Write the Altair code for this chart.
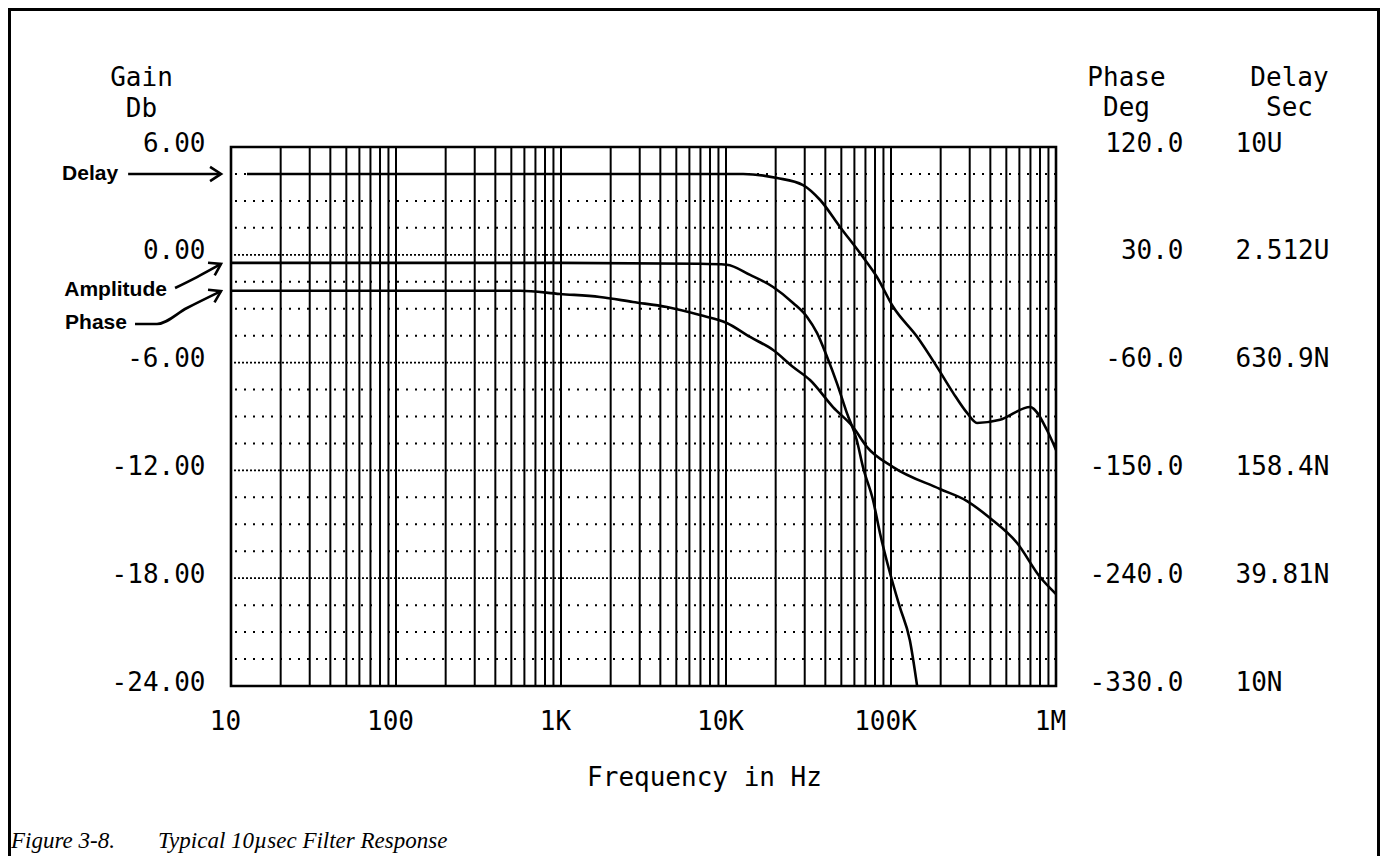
import altair as alt
import pandas as pd

# ---------------- data ----------------
amp_freq = [10, 1000, 6950, 10100, 14000, 19300, 25500, 31000, 35600, 41000, 47000,
            54000, 62000, 67600, 77800, 85700, 98600, 113000, 130000, 144000]
amp_db = [-0.45, -0.45, -0.5, -0.55, -1.12, -1.79, -2.68, -3.46, -4.35, -5.69, -7.14,
          -8.8, -10.31, -11.81, -13.65, -15.48, -17.71, -19.6, -21.44, -24.0]

phase_freq = [10, 565, 986, 1720, 2730, 4390, 6950, 10100, 14000, 19300, 25500, 32300,
              44500, 58900, 71600, 103000, 198000, 289000, 398000, 581000, 800000, 1000000]
phase_deg = [0, 0, -2.7, -5.2, -9.4, -13.6, -20.3, -26.9, -38.6, -49.5, -63.7, -74.5,
             -97.1, -113.8, -130.5, -147.2, -165.5, -175.6, -189.8, -210.6, -239.0, -253.2]

delay_freq = [12.5, 12700, 20400, 29300, 37200, 49100, 67600, 82200, 103000, 144000,
              190000, 238000, 289000, 332000, 458000, 696000, 881000, 1000000]
delay_sec = [7.08e-6, 7.08e-6, 6.72e-6, 6.14e-6, 5.07e-6, 3.59e-6, 2.44e-6, 1.89e-6,
             1.29e-6, 8.78e-7, 5.97e-7, 4.28e-7, 3.31e-7, 2.91e-7, 3.03e-7, 3.57e-7,
             2.66e-7, 2.06e-7]

# tick values / labels
x_ticks = [10, 100, 1000, 10000, 100000, 1000000]
x_labels = ["10", "100", "1K", "10K", "100K", "1M"]
gain_ticks = [6, 0, -6, -12, -18, -24]
gain_labels = ["6.00", "0.00", "-6.00", "-12.00", "-18.00", "-24.00"]
phase_ticks = [120, 30, -60, -150, -240, -330]
phase_labels = ["120.0", "30.0", "-60.0", "-150.0", "-240.0", "-330.0"]
delay_ticks = [1e-5, 2.512e-6, 6.309e-7, 1.584e-7, 3.981e-8, 1e-8]
delay_labels = ["10U", "2.512U", "630.9N", "158.4N", "39.81N", "10N"]

# grid
grid_freqs = [m * 10 ** k for k in range(1, 6) for m in range(1, 10)] + [1000000]
minor_db = [6 - 1.5 * i for i in range(1, 20) if i % 4 != 0]
major_db = [0, -6, -12, -18]

# annotations (in frequency / gain-dB space)
ann_text = ["Delay", "Amplitude", "Phase"]
ann_text_freq = [2.07, 4.09, 2.34]
ann_text_db = [4.5, -1.96, -3.8]
arrow_id = ["d", "d", "a", "a", "a", "p", "p", "p", "p"]
arrow_freq = [2.38, 8.46, 4.58, 6.22, 8.7, 2.62, 3.56, 5.41, 8.7]
arrow_db = [4.5, 4.5, -1.85, -1.24, -0.51, -3.85, -3.85, -2.96, -2.02]
tip_freq = [8.7, 8.7, 8.7]
tip_db = [4.5, -0.51, -2.02]
tip_angle = [0, 332, 333]

caption_1 = "Figure 3-8."
caption_2 = "Typical 10\u00b5sec Filter Response"

MONO = "DejaVu Sans Mono"
SANS = "Liberation Sans"
SERIF = "Liberation Serif"
FS = 26


def lookup_expr(values, labels):
    v = ",".join(repr(x) for x in values)
    l = ",".join("'" + s + "'" for s in labels)
    return f"[{l}][indexof([{v}], datum.value)]"


xscale = alt.Scale(type="log", domain=[10, 1000000], nice=False)
gscale = alt.Scale(domain=[-24, 6], nice=False, zero=False)

amp_df = pd.DataFrame({"freq": amp_freq, "v": amp_db})
phase_df = pd.DataFrame({"freq": phase_freq, "v": phase_deg})
delay_df = pd.DataFrame({"freq": delay_freq, "v": delay_sec})

x_axis = alt.Axis(
    values=x_ticks, labelExpr=lookup_expr(x_ticks, x_labels),
    labelFont=MONO, labelFontSize=FS, labelColor="black", labelPadding=22,
    labelBaseline="top", labelOffset=-6, labelFlush=False, labelOverlap=False,
    ticks=False, tickSize=0, domain=False, grid=False,
    title="Frequency in Hz", titleFont=MONO, titleFontSize=FS, titleFontWeight="normal",
    titleColor="black", titleX=473, titleY=99, titleAlign="center",
    titleBaseline="alphabetic")

gain_axis = alt.Axis(
    orient="left", values=gain_ticks, labelExpr=lookup_expr(gain_ticks, gain_labels),
    labelFont=MONO, labelFontSize=FS, labelColor="black", labelPadding=26,
    labelAlign="right", labelBaseline="middle", labelOffset=-4, labelFlush=False,
    labelOverlap=False, ticks=False, tickSize=0, domain=False, grid=False,
    title=["Gain", "Db"], titleFont=MONO, titleFontSize=FS, titleFontWeight="normal",
    titleColor="black", titleAngle=0, titleX=-90, titleY=-62, titleAlign="center",
    titleBaseline="alphabetic", titleLineHeight=31)

X = alt.X("freq:Q", scale=xscale, axis=x_axis)

vgrid = alt.Chart(pd.DataFrame({"freq": grid_freqs})).mark_rule(
    color="black", strokeWidth=2
).encode(x=X)

hminor = alt.Chart(pd.DataFrame({"v": minor_db})).mark_rule(
    color="black", strokeWidth=2, strokeDash=[2, 7]
).encode(y=alt.Y("v:Q", scale=gscale, axis=gain_axis))

hmajor = alt.Chart(pd.DataFrame({"v": major_db})).mark_rule(
    color="black", strokeWidth=1.8, strokeDash=[2, 2]
).encode(y=alt.Y("v:Q", scale=gscale, axis=gain_axis))

amp_line = alt.Chart(amp_df).mark_line(
    color="black", strokeWidth=2.6, clip=True, interpolate="monotone"
).encode(x=X, y=alt.Y("v:Q", scale=gscale, axis=gain_axis))

ann_df = pd.DataFrame({"freq": ann_text_freq, "v": ann_text_db, "t": ann_text})
ann_txt = alt.Chart(ann_df).mark_text(
    font=SANS, fontSize=21, fontWeight="bold", align="right", baseline="middle", color="black"
).encode(x=X, y=alt.Y("v:Q", scale=gscale, axis=gain_axis), text="t:N")

arrow_df = pd.DataFrame({"freq": arrow_freq, "v": arrow_db, "id": arrow_id})
arrows = alt.Chart(arrow_df).mark_line(
    color="black", strokeWidth=2.6, interpolate="monotone"
).encode(x=X, y=alt.Y("v:Q", scale=gscale, axis=gain_axis), detail="id:N")

tip_df = pd.DataFrame({"freq": tip_freq, "v": tip_db, "ang": tip_angle})
tips = alt.Chart(tip_df).mark_point(
    shape="M -1 -0.65 L 0 0 L -1 0.65", filled=False, stroke="black",
    strokeWidth=2.6, size=480, opacity=1
).encode(x=X, y=alt.Y("v:Q", scale=gscale, axis=gain_axis),
         angle=alt.Angle("ang:Q", scale=None))

gain_group = alt.layer(vgrid, hminor, hmajor, amp_line, ann_txt, arrows, tips)

phase_line = alt.Chart(phase_df).mark_line(
    color="black", strokeWidth=2.6, clip=True, interpolate="monotone"
).encode(
    x=X,
    y=alt.Y("v:Q", scale=alt.Scale(domain=[-330, 120], nice=False, zero=False),
            axis=alt.Axis(
                orient="right", values=phase_ticks,
                labelExpr=lookup_expr(phase_ticks, phase_labels),
                labelFont=MONO, labelFontSize=FS, labelColor="black", labelPadding=127,
                labelAlign="right", labelBaseline="middle", labelOffset=-4, labelFlush=False,
                labelOverlap=False, ticks=False, tickSize=0, domain=False, grid=False,
                title=["Phase", "Deg"], titleFont=MONO, titleFontSize=FS,
                titleFontWeight="normal", titleColor="black", titleAngle=0, titleX=70,
                titleY=-62, titleAlign="center", titleBaseline="alphabetic",
                titleLineHeight=30)),
)

delay_line = alt.Chart(delay_df).mark_line(
    color="black", strokeWidth=2.6, clip=True, interpolate="monotone"
).encode(
    x=X,
    y=alt.Y("v:Q", scale=alt.Scale(type="log", domain=[1e-8, 1e-5], nice=False),
            axis=alt.Axis(
                orient="right", values=delay_ticks,
                labelExpr=lookup_expr(delay_ticks, delay_labels),
                labelFont=MONO, labelFontSize=FS, labelColor="black", labelPadding=179,
                labelAlign="left", labelBaseline="middle", labelOffset=-4, labelFlush=False,
                labelOverlap=False, ticks=False, tickSize=0, domain=False, grid=False,
                title=["Delay", "Sec"], titleFont=MONO, titleFontSize=FS,
                titleFontWeight="normal", titleColor="black", titleAngle=0, titleX=233,
                titleY=-62, titleAlign="center", titleBaseline="alphabetic",
                titleLineHeight=30)),
)

# caption and outer frame (page decoration)
cap_style = dict(font=SERIF, fontSize=23, fontStyle="italic", align="left",
                 baseline="alphabetic", color="black")
one = pd.DataFrame({"a": [0]})
cap1 = alt.Chart(one).mark_text(text=caption_1, **cap_style).encode(
    x=alt.value(-220), y=alt.value(701))
cap2 = alt.Chart(one).mark_text(text=caption_2, **cap_style).encode(
    x=alt.value(-73), y=alt.value(701))

border = alt.Chart(one).mark_rect(
    fill=None, filled=False, stroke="black", strokeWidth=3
).encode(x=alt.value(-221.5), x2=alt.value(1147.5), y=alt.value(-137.5), y2=alt.value(730))

chart = alt.layer(gain_group, phase_line, delay_line, cap1, cap2, border).resolve_scale(
    y="independent"
).properties(
    width=825, height=539,
    padding={"left": 223, "top": 139, "right": 324, "bottom": 170},
    autosize=alt.AutoSizeParams(type="none"),
    background="white",
).configure_view(stroke="black", strokeWidth=2.6)

chart.save("out.html", embed_options={"renderer": "svg", "actions": False})
